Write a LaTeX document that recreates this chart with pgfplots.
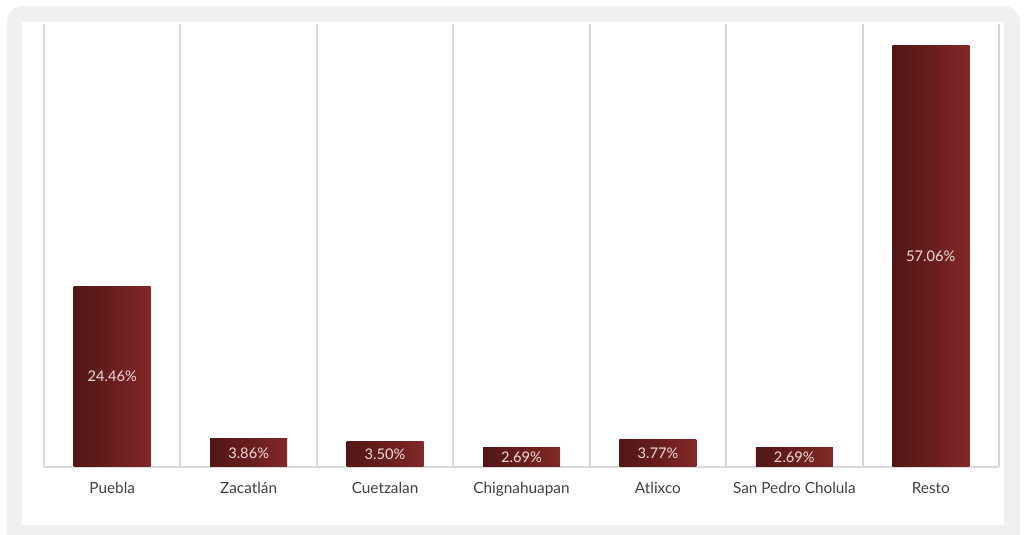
\documentclass[border=0pt]{standalone}
\usepackage{pgfplots}
\pgfplotsset{compat=1.18}
\usepackage{fontspec}
\setmainfont{Lato}
\definecolor{barA}{HTML}{521616}
\definecolor{barB}{HTML}{832828}
\definecolor{gridc}{HTML}{D9D9D9}
\definecolor{bgc}{HTML}{F0F0F0}
\definecolor{txt}{HTML}{404040}
\definecolor{lbl}{HTML}{F2DADA}
\pgfplotsset{barsty/.style={ybar, bar width=57.75pt, draw=none, left color=barA, right color=barB, middle color=barA!55!barB}}
\begin{document}
\begin{tikzpicture}[x=0.75pt,y=0.75pt]
\useasboundingbox (0,0) rectangle (1024,535);
\fill[white] (0,0) rectangle (1024,535);
\begin{scope}
\clip (0,0) rectangle (1024,535);
\fill[bgc,rounded corners=12pt] (7,-20) rectangle (1020,529);
\end{scope}
\fill[white] (22,10) rectangle (1004,513);
\begin{axis}[
  at={(33pt,51pt)}, anchor=south west,
  scale only axis, width=716.25pt, height=332.25pt,
  xmin=-0.5, xmax=6.5, ymin=0, ymax=60,
  axis x line=bottom, axis y line=none,
  axis line style={gridc, line width=1.4pt, -},
  xtick={0,...,6},
  xticklabels={Puebla,Zacatlán,Cuetzalan,Chignahuapan,Atlixco,San Pedro Cholula,Resto},
  major tick length=0pt,
  xticklabel style={font=\fontsize{11.5}{13}\selectfont, text=txt, yshift=-8pt},
  minor xtick={-0.5,0.5,...,6.5},
  xminorgrids,
  minor grid style={gridc, line width=1.4pt},
  minor tick length=0pt,
  ytick=\empty,
  clip=false,
]
\addplot[barsty] coordinates {(0,24.46)};
\addplot[barsty] coordinates {(1,3.86)};
\addplot[barsty] coordinates {(2,3.50)};
\addplot[barsty] coordinates {(3,2.69)};
\addplot[barsty] coordinates {(4,3.77)};
\addplot[barsty] coordinates {(5,2.69)};
\addplot[barsty] coordinates {(6,57.06)};
\addplot[draw=none, mark=none, nodes near coords, point meta=explicit symbolic,
  every node near coord/.style={anchor=center, text=lbl, font=\fontsize{11}{12}\selectfont}]
  coordinates {(0,12.23)[24.46\%] (1,1.93)[3.86\%] (2,1.75)[3.50\%] (3,1.345)[2.69\%] (4,1.885)[3.77\%] (5,1.345)[2.69\%] (6,28.53)[57.06\%]};
\end{axis}
\end{tikzpicture}
\end{document}
